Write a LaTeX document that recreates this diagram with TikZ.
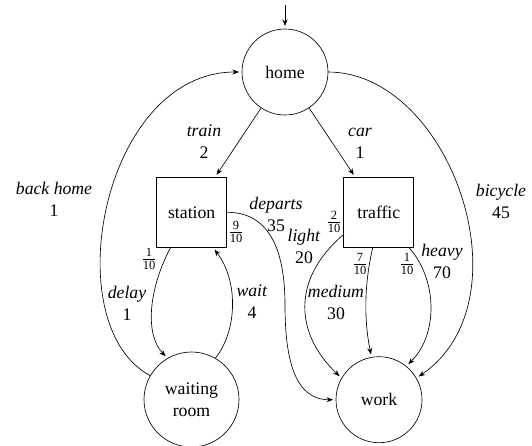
\documentclass[tikz,border=0pt]{standalone}
\usepackage{fontspec}
\setmainfont{Liberation Serif}
\usetikzlibrary{arrows.meta}
\tikzset{
 st/.style={draw,circle,minimum size=86pt,inner sep=0pt,outer sep=0pt,font=\fontsize{17.7}{22}\selectfont,align=center},
 bigst/.style={st,minimum size=95pt},
 bx/.style={draw,minimum size=70pt,inner sep=0pt,outer sep=0pt,font=\fontsize{17.7}{22}\selectfont},
 lb/.style={font=\fontsize{17.7}{22}\selectfont,align=center,inner sep=0pt},
 pr/.style={font=\fontsize{18}{20}\selectfont,inner sep=0pt},
 ed/.style={-{Stealth[length=6.5pt,width=5pt]},line width=0.65pt,shorten >=3pt}
}
\newcommand{\fr}[2]{$\frac{\mbox{\fontsize{12.5}{13}\selectfont #1}}{\mbox{\fontsize{12.5}{13}\selectfont #2}}$}
\begin{document}
\begin{tikzpicture}[x=1pt,y=-1pt,line width=0.65pt]
\useasboundingbox (0,0) rectangle (532,445);
\node[st] (home) at (285,72) {home};
\node[bx] (station) at (191.7,212.3) {station};
\node[bx] (traffic) at (378.8,212.3) {traffic};
\node[bigst] (wait) at (191.5,399.5) {waiting\\room};
\node[st] (work) at (379,399.7) {work};
\coordinate (init) at (285,5);
\draw[ed] (init) -- (home);
\draw[ed] (home) -- (station);
\draw[ed] (home) -- (traffic);
\draw[ed] (wait.150) .. controls (55,325) and (102,72) .. (home.west);
\draw[ed] (home.east) .. controls (450,72) and (530,300) .. (work.30);
\draw[ed] ([xshift=-21pt]station.south) .. controls (148,290) and (145,335) .. (wait.120);
\draw[ed] (wait.60) .. controls (238,330) and (238,280) .. ([xshift=21pt]station.south);
\draw[ed] (station.east) .. controls (272,212) and (285,255) .. (285,305) .. controls (285,360) and (295,399.7) .. (work.west);
\draw[ed] ([yshift=-22pt]traffic.west) .. controls (290,280) and (296,335) .. (work.150);
\draw[ed] ([xshift=-6pt]traffic.south) .. controls (364,285) and (364,320) .. (work.100);
\draw[ed] ([xshift=-5pt]traffic.south east) .. controls (438,280) and (438,335) .. (work.51);
\node[lb] (l1) at (204,142) {\textit{train}\\2};
\node[lb] (l2) at (360,143) {\textit{car}\\1};
\node[lb] (l3) at (54,199) {\textit{back home}\\1};
\node[lb] (l4) at (501,201) {\textit{bicycle}\\45};
\node[lb] (l5) at (276,214) {\textit{departs}\\35};
\node[lb] (l6) at (304,246) {\textit{light}\\20};
\node[lb] (l7) at (336,302) {\textit{medium}\\30};
\node[lb] (l8) at (442,261) {\textit{heavy}\\70};
\node[lb] (l9) at (127,303) {\textit{delay}\\1};
\node[lb] (l10) at (252,302) {\textit{wait}\\4};
\node[pr] (p1) at (149,259) {\fr{1}{10}};
\node[pr] (p2) at (236,232) {\fr{9}{10}};
\node[pr] (p3) at (334,222) {\fr{2}{10}};
\node[pr] (p4) at (360,264) {\fr{7}{10}};
\node[pr] (p5) at (407,264) {\fr{1}{10}};
\end{tikzpicture}
\end{document}
